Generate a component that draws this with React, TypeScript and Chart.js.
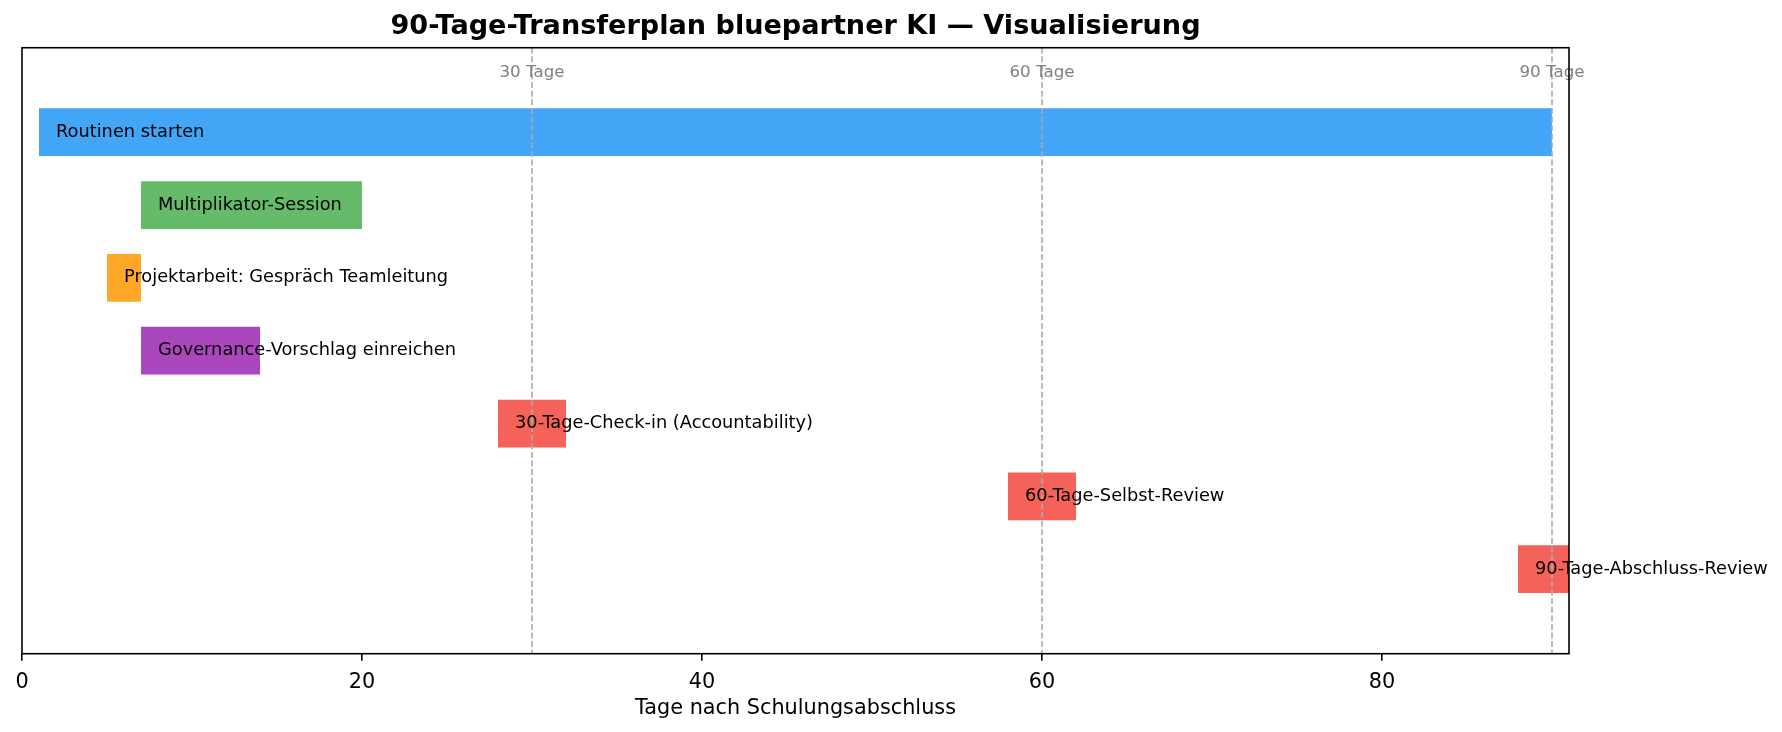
import React, { useEffect, useRef } from "react";
import { Chart, registerables } from "chart.js";

Chart.register(...registerables);

const taskNames = [
  "Routinen starten",
  "Multiplikator-Session",
  "Projektarbeit: Gespräch Teamleitung",
  "Governance-Vorschlag einreichen",
  "30-Tage-Check-in (Accountability)",
  "60-Tage-Selbst-Review",
  "90-Tage-Abschluss-Review",
];
const startDays = [1, 7, 5, 7, 28, 58, 88];
const endDays = [90, 20, 7, 14, 32, 62, 92];
const milestoneDays = [30, 60, 90];
const milestoneLabels = ["30 Tage", "60 Tage", "90 Tage"];
const xTickValues = [0, 20, 40, 60, 80];

const barColors = ["#42A5F5", "#66BB6A", "#FFA726", "#AB47BC", "#F4625A", "#F4625A", "#F4625A"];
const FONT = "'DejaVu Sans', sans-serif";

// dashed milestone lines + small grey labels at the top
const milestonePlugin = {
  id: "milestones",
  afterDatasetsDraw(chart: any) {
    const { ctx, chartArea, scales } = chart;
    ctx.save();
    ctx.strokeStyle = "#aaaaaa";
    ctx.lineWidth = 1.6;
    milestoneDays.forEach((d, i) => {
      const x = scales.x.getPixelForValue(d);
      ctx.setLineDash([6, 2.6]);
      ctx.beginPath();
      ctx.moveTo(x, chartArea.top);
      ctx.lineTo(x, chartArea.bottom);
      ctx.stroke();
      ctx.setLineDash([]);
      ctx.fillStyle = "#808080";
      ctx.font = `16.7px ${FONT}`;
      ctx.textAlign = "center";
      ctx.textBaseline = "middle";
      ctx.fillText(milestoneLabels[i], x, chartArea.top + 25);
    });
    ctx.restore();
  },
};

// task names written next to the bar start
const barLabelPlugin = {
  id: "barLabels",
  afterDatasetsDraw(chart: any) {
    const { ctx, scales } = chart;
    const meta = chart.getDatasetMeta(0);
    ctx.save();
    ctx.fillStyle = "#000";
    ctx.font = `17.8px ${FONT}`;
    ctx.textAlign = "left";
    ctx.textBaseline = "middle";
    meta.data.forEach((bar: any, i: number) => {
      const x = scales.x.getPixelForValue(startDays[i] + 1);
      ctx.fillText(taskNames[i], x, bar.y);
    });
    ctx.restore();
  },
};

const framePlugin = {
  id: "frame",
  afterDraw(chart: any) {
    const { ctx, chartArea } = chart;
    ctx.save();
    ctx.strokeStyle = "#000";
    ctx.lineWidth = 1.6;
    ctx.strokeRect(chartArea.left, chartArea.top, chartArea.right - chartArea.left, chartArea.bottom - chartArea.top);
    ctx.restore();
  },
};

export default function App() {
  const canvasRef = useRef<HTMLCanvasElement>(null);

  useEffect(() => {
    document.body.style.margin = "0";
    if (!canvasRef.current) return;
    const chart = new Chart(canvasRef.current, {
      type: "bar",
      data: {
        datasets: [
          {
            label: "Plan",
            data: startDays.map((s, i) => ({ x: [s, endDays[i]], y: i })) as any,
            backgroundColor: barColors,
            borderWidth: 0,
            barPercentage: 0.655,
            categoryPercentage: 1,
          },
        ],
      },
      options: {
        indexAxis: "y",
        responsive: true,
        maintainAspectRatio: false,
        animation: false,
        layout: { padding: { left: 22, right: 213, top: 0, bottom: 0 } },
        plugins: {
          legend: { display: false },
          tooltip: { enabled: false },
          title: {
            display: true,
            text: "90-Tage-Transferplan bluepartner KI — Visualisierung",
            color: "#000",
            font: { family: FONT, size: 27.1, weight: "bold" },
            padding: { top: 10.6, bottom: 4.6 },
          },
        },
        scales: {
          x: {
            type: "linear",
            min: 0,
            max: 91,
            afterBuildTicks(scale: any) {
              scale.ticks = xTickValues.map((v) => ({ value: v }));
            },
            ticks: {
              color: "#000",
              font: { family: FONT, size: 20.8 },
              padding: 9.5,
            },
            grid: {
              drawOnChartArea: false,
              drawTicks: true,
              tickLength: 7,
              color: "#000",
              lineWidth: 1.6,
            },
            border: { display: false },
            title: {
              display: true,
              text: "Tage nach Schulungsabschluss",
              color: "#000",
              font: { family: FONT, size: 20.8 },
              padding: { top: 0, bottom: 11.3 },
            },
            afterFit(scale: any) {
              scale.height = 78.3;
            },
          },
          y: {
            type: "linear",
            display: false,
            offset: false,
            min: -1.16,
            max: 7.16,
            reverse: true,
          },
        },
      },
      plugins: [milestonePlugin, barLabelPlugin, framePlugin],
    });
    return () => chart.destroy();
  }, []);

  return (
    <div style={{ width: 1782, height: 732, position: "relative" }}>
      <canvas ref={canvasRef}></canvas>
    </div>
  );
}
